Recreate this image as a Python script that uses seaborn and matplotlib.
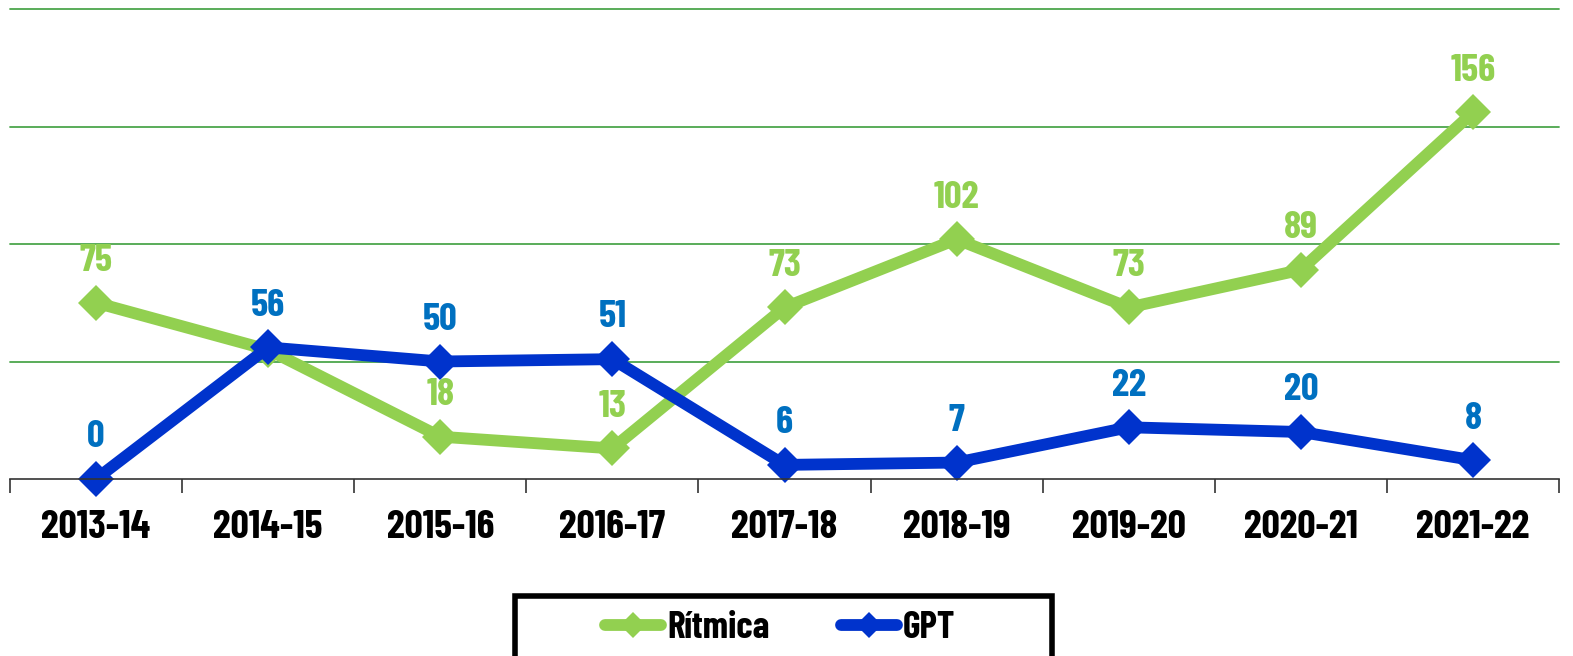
import pandas as pd
import seaborn as sns
import matplotlib.pyplot as plt
from matplotlib.lines import Line2D
from matplotlib.patches import Rectangle

temporadas = ['2013-14', '2014-15', '2015-16', '2016-17', '2017-18',
              '2018-19', '2019-20', '2020-21', '2021-22']
ritmica = [75, 55, 18, 13, 73, 102, 73, 89, 156]
gpt = [0, 56, 50, 51, 6, 7, 22, 20, 8]
# la etiqueta de Rítmica 2014-15 queda tapada en el original
ritmica_etiquetas = ['75', None, '18', '13', '73', '102', '73', '89', '156']
gpt_etiquetas = [str(v) for v in gpt]

verde = '#92D050'
azul = '#0033CC'
azul_texto = '#0070C0'

df = pd.DataFrame({'x': list(range(len(temporadas))) * 2,
                   'valor': ritmica + gpt,
                   'serie': ['Rítmica'] * 9 + ['GPT'] * 9})

sns.set_style('white')
plt.rcParams['font.family'] = ['Barlow Condensed', 'Asap Condensed', 'DejaVu Sans']
plt.rcParams['font.weight'] = 'bold'
plt.rcParams['text.color'] = 'black'

fig = plt.figure(figsize=(15.73, 6.56), dpi=100)
ax = fig.add_axes([10 / 1573, 177 / 656, 1549 / 1573, 470 / 656])

for y in [50, 100, 150, 200]:
    ax.axhline(y, color='#4CA64C', lw=1.3, zorder=0, clip_on=False)

sns.lineplot(data=df, x='x', y='valor', hue='serie',
             palette={'Rítmica': verde, 'GPT': azul},
             marker='D', markersize=18, markeredgewidth=0,
             linewidth=8.5, legend=False, ax=ax, clip_on=False)

for i, (v, t) in enumerate(zip(ritmica, ritmica_etiquetas)):
    if t:
        ax.annotate(t, (i, v), xytext=(0, 30), textcoords='offset points',
                    ha='center', va='center', color=verde, fontsize=28,
                    fontweight='bold')
for i, (v, t) in enumerate(zip(gpt, gpt_etiquetas)):
    ax.annotate(t, (i, v), xytext=(0, 30), textcoords='offset points',
                ha='center', va='center', color=azul_texto, fontsize=28,
                fontweight='bold')

ax.set_xlim(-0.5, 8.5)
ax.set_ylim(0, 200)
ax.set_yticks([])
ax.set_xticks(range(9))
ax.set_xticklabels(temporadas, fontsize=29, fontweight='bold', color='black')
ax.set_xticks([i - 0.5 for i in range(10)], minor=True)
ax.tick_params(axis='x', which='major', length=0, pad=22)
ax.tick_params(axis='x', which='minor', length=10, width=1.2, color='#333333',
               direction='out', bottom=True)
ax.set_xlabel('')
ax.set_ylabel('')
for s in ['top', 'right', 'left']:
    ax.spines[s].set_visible(False)
ax.spines['bottom'].set_color('#333333')
ax.spines['bottom'].set_linewidth(1.2)

# marco de la leyenda
fig.patches.append(Rectangle((515 / 1573, -10 / 656), 537 / 1573, 70 / 656,
                             transform=fig.transFigure, fill=False,
                             edgecolor='black', linewidth=4))

handles = [Line2D([], [], color=verde, lw=8.5, marker='D', markersize=13,
                  markeredgewidth=0, solid_capstyle='round'),
           Line2D([], [], color=azul, lw=8.5, marker='D', markersize=13,
                  markeredgewidth=0, solid_capstyle='round')]
leg = fig.legend(handles, ['Rítmica', 'GPT'], loc='center',
                 bbox_to_anchor=(780 / 1573, 28 / 656), ncol=2,
                 prop={'size': 27, 'weight': 'bold'}, frameon=False,
                 handlelength=1.5, handletextpad=0.15, columnspacing=1.9,
                 borderpad=0, borderaxespad=0)
for t in leg.get_texts():
    t.set_color('black')

fig.savefig('out.png', dpi=100)
